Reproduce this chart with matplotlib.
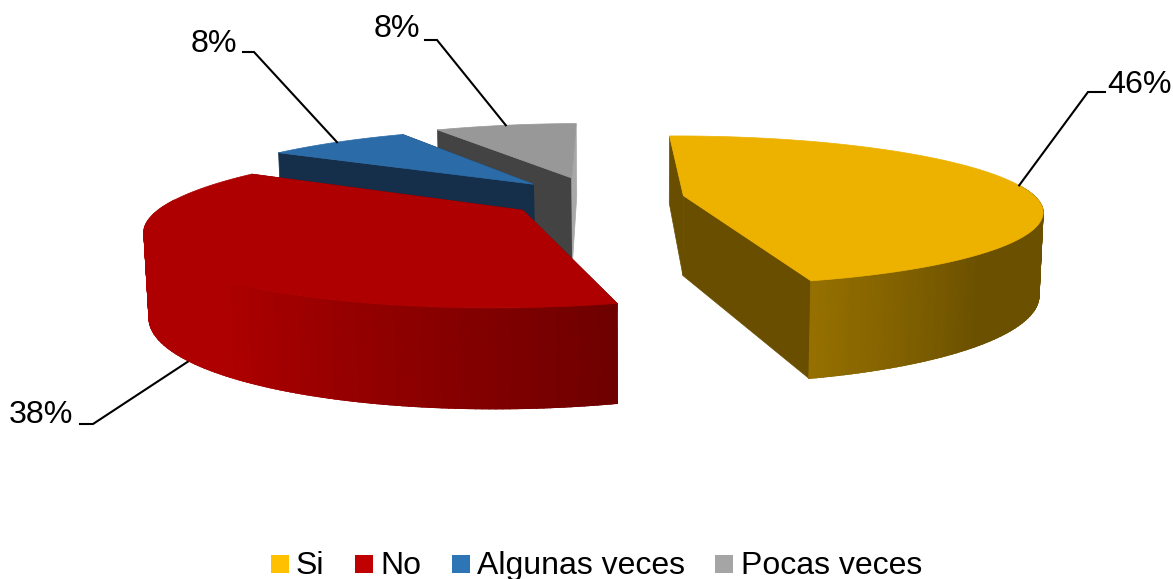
"""plot.py -- exploded 3D pie drawn with a small perspective camera."""
import numpy as np
import matplotlib
matplotlib.use("Agg")
import matplotlib.pyplot as plt
from matplotlib.colors import LinearSegmentedColormap
from matplotlib.patches import Polygon, Rectangle

categories = ["Si", "No", "Algunas veces", "Pocas veces"]
values = [46, 38, 8, 8]
labels = ["46%", "38%", "8%", "8%"]

TOP = ["#EDB200", "#AE0000", "#2B6CA8", "#989898"]
SIDE = ["#6A4E00", "#5A0000", "#152E4A", "#434343"]
LEGEND = ["#FFC000", "#C00000", "#2E75B6", "#A5A5A5"]
EXPLODE = [0.22, 0.27, 0.29, 0.35]
NUDGE_X = [0.006, -0.006, -0.010, -0.010]
NUDGE_Y = [0.0, 0.0, -0.01, -0.045]
HEIGHT = [0.235, 0.23, 0.24, 0.265]
FIRST_ANGLE = -1.3

# camera, in pixels and pie radii
CX, CY = 640.0, 198.0
X0 = -0.10
TILT = np.radians(11.85)
DIST = 4.9
FOCAL = 1730.0


def project(X, Y, Z):
    X, Y = np.asarray(X, float) + X0, np.asarray(Y, float)
    yc = Y * np.sin(TILT) + Z * np.cos(TILT)
    zc = DIST + Y * np.cos(TILT) - Z * np.sin(TILT)
    return np.column_stack([CX + FOCAL * X / zc, CY - FOCAL * yc / zc])


def shade(deg):
    # light comes from the left, front right of the wall is darkest
    return np.interp(deg, [0, 135, 164, 220, 360], [0.45, 0.45, 0.63, 1.0, 1.0])


def quad(p, q, color):
    return Polygon(np.vstack([p, q[::-1]]), closed=True, fc=color, ec=color, lw=0.5)


def offset(i, mid):
    ex = EXPLODE[i] * np.sin(np.radians(mid)) + NUDGE_X[i]
    ey = EXPLODE[i] * np.cos(np.radians(mid)) + NUDGE_Y[i]
    return ex, ey


def draw_slice(ax, start, end, mid, i):
    ex, ey = offset(i, mid)
    th = np.radians(np.linspace(start, end, 160))
    top_rim = project(ex + np.sin(th), ey + np.cos(th), 0.0)
    low_rim = project(ex + np.sin(th), ey + np.cos(th), -HEIGHT[i])
    apex_t = project([ex], [ey], 0.0)
    apex_b = project([ex], [ey], -HEIGHT[i])

    # radial faces
    ax.add_patch(quad(np.vstack([apex_t, top_rim[:1]]), np.vstack([apex_b, low_rim[:1]]), SIDE[i]))
    end_color = "#A8A8A8" if i == 3 else SIDE[i]
    ax.add_patch(quad(np.vstack([apex_t, top_rim[-1:]]), np.vstack([apex_b, low_rim[-1:]]), end_color))

    # outer wall, only the part turned to the viewer
    deg = np.degrees(th)
    keep = (deg > 82) & (deg < 278)
    if keep.sum() > 1:
        xs = np.vstack([top_rim[keep, 0], low_rim[keep, 0]])
        ys = np.vstack([top_rim[keep, 1], low_rim[keep, 1]])
        cc = np.vstack([shade(deg[keep]), shade(deg[keep])])
        cmap = LinearSegmentedColormap.from_list("wall", ["black", TOP[i]])
        ax.pcolormesh(xs, ys, cc, shading="gouraud", cmap=cmap, vmin=0, vmax=1)
        edge = [cmap(float(s)) for s in shade(deg[keep])]
        for k in range(0, keep.sum() - 1):
            ax.plot(low_rim[keep, 0][k:k + 2], low_rim[keep, 1][k:k + 2], color=edge[k], lw=0.8)

    ax.add_patch(Polygon(np.vstack([apex_t, top_rim]), closed=True, fc=TOP[i], ec=TOP[i], lw=0.5))


fig = plt.figure(figsize=(11.73, 5.79), dpi=100)
ax = fig.add_axes([0, 0, 1, 1])
ax.set_xlim(0, 1173)
ax.set_ylim(579, 0)
ax.axis("off")
plt.rcParams["font.family"] = ["Liberation Sans", "DejaVu Sans"]

edges = np.concatenate([[0], np.cumsum(values)]) / np.sum(values) * 360 + FIRST_ANGLE
mids = (edges[:-1] + edges[1:]) / 2

# leader lines go under the slices: rim point, elbow, short run, then label
leaders = [(0, 0, 0, (1088, 92), 1105, 1107, 85, "left"),
           (1, 1, -3, (93, 424), 80, 73, 415, "right"),
           (2, 0, 0, (254, 52), 243, 237, 44, "right"),
           (3, 0, 0, (437, 40), 425, 420, 29, "right")]
for i, low, turn, (bx, by), run, tx, ty, ha in leaders:
    m = np.radians(mids[i] + turn)
    ex, ey = offset(i, mids[i])
    p = project([ex + np.sin(m)], [ey + np.cos(m)], -HEIGHT[i] * low)[0]
    ax.plot([p[0], bx, run], [p[1], by, by], color="black", lw=1.5, solid_joinstyle="miter")
    ax.text(tx, ty, labels[i], fontsize=23.2, ha=ha, va="center", color="black")

for i in [3, 2, 1, 0]:
    draw_slice(ax, edges[i], edges[i + 1], mids[i], i)

swatch_x = [271, 355, 452, 715]
text_x = [296, 380, 477, 741]
for name, color, sx, tx in zip(categories, LEGEND, swatch_x, text_x):
    ax.add_patch(Rectangle((sx, 555), 17.5, 17.5, fc=color, ec="none"))
    ax.text(tx, 566, name, fontsize=23, ha="left", va="center", color="black")

fig.savefig("out.png", dpi=100)
